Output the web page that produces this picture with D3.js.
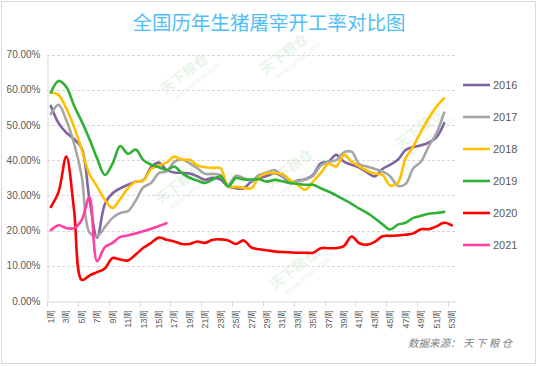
<!DOCTYPE html>
<html>
<head>
<meta charset="utf-8">
<script src="https://cdn.jsdelivr.net/npm/d3@7"></script>
<style>
  body { margin: 0; background: #fff; }
  svg { display: block; font-family: "Noto Sans CJK SC", "Noto Sans", sans-serif; }
</style>
</head>
<body>
<div id="chart"></div>
<script>
// weeks 1..53
const weeks = d3.range(1, 54);
const years = ['2016', '2017', '2018', '2019', '2020', '2021'];
const colors = ['#8064A2', '#A6A6A6', '#FFC000', '#2EB135', '#FF0000', '#FF3FA4'];

// slaughter operating rate (%) per week
const y2016 = [55.4, 50.5, 47.8, 46, 43.4, 29, 18, 27.5, 30.6, 32, 33, 33.9, 34.3, 38, 39.3, 37.2, 36.5, 36.4, 36.2, 35.4,
  34.4, 35, 34.5, 32.5, 32, 32, 33.9, 34.9, 35.5, 36.3, 35.4, 33.5, 34.2, 34.6, 35.8, 39.1, 39.6, 41.5, 39.6, 38.7,
  37.9, 36.5, 35.4, 37.5, 38.7, 40.1, 42.9, 43.7, 44.2, 45, 46.5, 50.5];
const y2017 = [53.1, 55.7, 51.4, 44.8, 35.4, 19.5, 18.4, 21, 23.6, 25, 25.5, 28.5, 32.3, 33.5, 36.3, 36.8, 39.5, 40.2, 39.1, 37.7,
  36.1, 36.1, 35.8, 33, 35.6, 34.9, 34.2, 35.8, 36.5, 37.2, 35.5, 34, 34, 34.5, 35.5, 38.5, 39.5, 40, 42.2, 42.4,
  38.8, 38.2, 37.5, 36.8, 35.4, 32.7, 33.2, 37.7, 39.6, 43.9, 47.6, 53.5];
const y2018 = [59.2, 58.5, 54.7, 49.5, 43, 36, 32.5, 28.8, 26.4, 29, 32, 33.9, 34.2, 37.5, 38.5, 39.3, 41, 40.1, 40.1, 38.5,
  38, 37.8, 37.7, 32.5, 32.4, 32.2, 32, 35.2, 36.3, 36.3, 36.1, 34.4, 33, 31.6, 33.9, 36.3, 39, 38.2, 41.5, 39.6,
  38.2, 37, 36.2, 35.8, 32.8, 33.6, 40.5, 43.9, 48.1, 51.9, 55.2, 57.6];
const y2019 = [59.2, 62.5, 60.8, 55.5, 51, 46, 40.5, 35.8, 39, 44, 41.8, 43, 40, 38.7, 38, 37.2, 38.2, 36.3, 35, 34.2,
  33.5, 34.5, 35.4, 32.5, 34.9, 34.5, 34.5, 34.6, 33.9, 34.4, 34, 33.5, 33.3, 33, 33, 32, 31.1, 30, 28.8, 27.6,
  26.2, 25, 23.5, 21.8, 20.3, 21.7, 22.2, 23.6, 24.2, 24.8, 25, 25.3];
const y2020 = [26.7, 31, 41, 26, 6, 7.2, 8.2, 9.2, 12.2, 11.8, 11.5, 13.2, 15.1, 16.5, 18, 17.4, 16.9, 16.2, 16.2, 16.9,
  16.5, 17.4, 17.5, 17.2, 16.2, 17.2, 15.2, 14.7, 14.4, 14.1, 13.9, 13.8, 13.7, 13.7, 13.7, 15, 15, 15, 15.6, 18.3,
  16.4, 16, 16.8, 18.4, 18.5, 18.6, 18.8, 19.2, 20.4, 20.4, 21.2, 22.2, 21.5];
const y2021 = [20.1, 21.5, 20.7, 20.7, 23, 29.5, 11.3, 15.3, 16.5, 18.2, 18.6, 19.2, 19.8, 20.5, 21.3, 22.1];
const yTicks = [0, 10, 20, 30, 40, 50, 60, 70];

const series = [y2016, y2017, y2018, y2019, y2020, y2021];

const width = 539, height = 366;
const margin = {top: 54.5, right: 83.3, bottom: 65, left: 47};

const svg = d3.select('#chart').append('svg')
  .attr('width', width)
  .attr('height', height);

// outer frame
svg.append('rect')
  .attr('x', 1.5).attr('y', 1.5)
  .attr('width', 534).attr('height', 362)
  .attr('fill', 'none')
  .attr('stroke', '#d9d9d9');

const x = d3.scaleBand()
  .domain(weeks)
  .range([margin.left, width - margin.right]);

const y = d3.scaleLinear()
  .domain([0, 70])
  .range([height - margin.bottom, margin.top]);

// title
svg.append('text')
  .attr('x', 269)
  .attr('y', 30)
  .attr('text-anchor', 'middle')
  .attr('fill', '#52BEF5')
  .style('font-size', '19.5px')
  .text('全国历年生猪屠宰开工率对比图');

// faint watermark
const wm = svg.append('g').attr('fill', '#e8f5e8');
[[165, 95], [265, 75], [160, 205], [270, 190], [400, 150], [275, 290]].forEach(p => {
  const g = wm.append('g').attr('transform', `translate(${p[0]},${p[1]}) rotate(-38)`);
  g.append('text').style('font-size', '14px').style('font-weight', 'bold').text('天下粮仓');
  g.append('text').attr('x', 6).attr('y', 11).style('font-size', '7px').text('www.cofeed.com');
});

// gridlines
svg.append('g')
  .selectAll('line')
  .data(yTicks.filter(d => d > 0))
  .enter().append('line')
  .attr('x1', margin.left)
  .attr('x2', width - margin.right)
  .attr('y1', d => Math.round(y(d)) + 0.5)
  .attr('y2', d => Math.round(y(d)) + 0.5)
  .attr('stroke', '#d9d9d9')
  .attr('stroke-dasharray', '3,2');

// y axis
const yAxis = svg.append('g')
  .attr('transform', `translate(${margin.left + 0.5},0)`)
  .call(d3.axisLeft(y).tickValues(yTicks).tickSize(0).tickPadding(7)
    .tickFormat(d => d.toFixed(2) + '%'));
yAxis.select('.domain').attr('stroke', '#d9d9d9');
yAxis.selectAll('text')
  .attr('fill', '#595959')
  .style('font-family', '"Liberation Sans", Arial, sans-serif')
  .style('font-size', '10px');

// x axis
const xAxis = svg.append('g')
  .attr('transform', `translate(0,${Math.round(y(0)) + 0.5})`)
  .call(d3.axisBottom(x).tickValues(weeks.filter(d => d % 2 === 1)).tickSize(0)
    .tickFormat(d => d + '周'));
xAxis.select('.domain').attr('stroke', '#d9d9d9');
xAxis.selectAll('text')
  .attr('transform', 'rotate(-90)')
  .attr('text-anchor', 'end')
  .attr('x', -8)
  .attr('y', 0)
  .attr('dy', '0.35em')
  .attr('fill', '#595959')
  .style('font-size', '9px');

// tick marks every 4 weeks on the category boundaries
const boundaries = weeks.filter(d => (d - 1) % 4 === 0);
xAxis.selectAll('.boundary')
  .data(boundaries)
  .enter().append('line')
  .attr('class', 'boundary')
  .attr('x1', d => Math.round(x(d)) + 0.5)
  .attr('x2', d => Math.round(x(d)) + 0.5)
  .attr('y1', 0)
  .attr('y2', 5)
  .attr('stroke', '#d9d9d9');

// lines
const line = d3.line()
  .x((d, i) => x(weeks[i]) + x.bandwidth() / 2)
  .y(d => y(d))
  .curve(d3.curveCatmullRom.alpha(0.5));

svg.append('g')
  .selectAll('path')
  .data(series)
  .enter().append('path')
  .attr('d', d => line(d))
  .attr('fill', 'none')
  .attr('stroke', (d, i) => colors[i])
  .attr('stroke-width', 2.6)
  .attr('stroke-linejoin', 'round')
  .attr('stroke-linecap', 'round');

// legend
const legend = svg.append('g')
  .attr('transform', 'translate(463,85)');
const item = legend.selectAll('g')
  .data(years)
  .enter().append('g')
  .attr('transform', (d, i) => `translate(0,${i * 32})`);
item.append('line')
  .attr('x1', 0).attr('x2', 27)
  .attr('stroke', (d, i) => colors[i])
  .attr('stroke-width', 2.6);
item.append('text')
  .attr('x', 30)
  .attr('dy', '0.35em')
  .attr('fill', '#595959')
  .style('font-family', '"Liberation Sans", Arial, sans-serif')
  .style('font-size', '11px')
  .text(d => d);

// source note
svg.append('text')
  .attr('x', 512)
  .attr('y', 347)
  .attr('text-anchor', 'end')
  .attr('fill', '#7f7f7f')
  .style('font-size', '10.5px')
  .style('font-style', 'italic')
  .text('数据来源： 天 下 粮 仓');
</script>
</body>
</html>
